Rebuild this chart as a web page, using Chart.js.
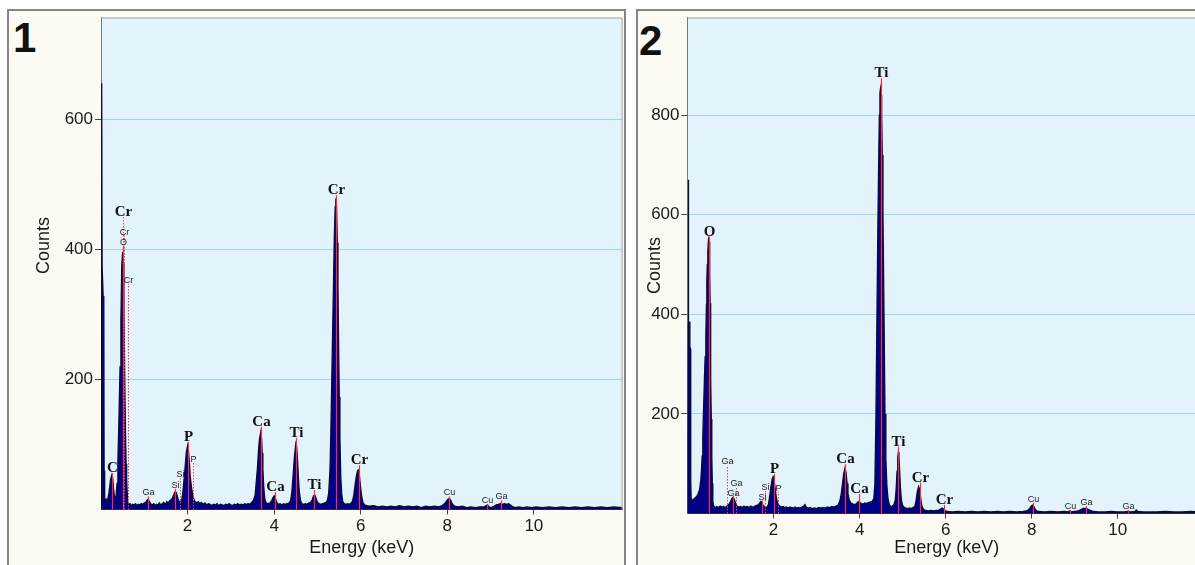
<!DOCTYPE html>
<html>
<head>
<meta charset="utf-8">
<script src="https://cdn.jsdelivr.net/npm/chart.js@4.4.1/dist/chart.umd.min.js"></script>
<style>
  html, body { margin: 0; padding: 0; background: #fff; width: 1195px; height: 565px; overflow: hidden; }
  .frame { position: absolute; top: 9px; height: 600px; background: #fbfbf3; border: 2px solid #858585; box-sizing: border-box; }
  #f1 { left: 7px; width: 619px; }
  #f2 { left: 636px; width: 620px; }
  .num { position: absolute; font: bold 42px "Liberation Sans", Arial, sans-serif; line-height: 42px; color: #111; }
  canvas { position: absolute; }
</style>
</head>
<body>
<div class="frame" id="f1"></div>
<div class="frame" id="f2"></div>
<div class="num" style="left:13px;top:17px">1</div>
<div class="num" style="left:639px;top:20px">2</div>
<canvas id="c1" width="616" height="554" style="left:9px;top:11px"></canvas>
<canvas id="c2" width="575" height="554" style="left:638px;top:11px"></canvas>
<script>
// tick values
const xTicks = [2, 4, 6, 8, 10];
const yTicks1 = [200, 400, 600];
const yTicks2 = [200, 400, 600, 800];

// spectrum 1: [energy keV, counts]
const spectrum1 = [
  [0,0],[0.012,300],[0.02,655],[0.026,374],[0.045,374],[0.05,328],[0.065,325],[0.072,60],[0.085,18],[0.1,14],
  [0.12,16],[0.14,13],[0.16,18],[0.18,24],[0.2,34],[0.22,46],[0.25,53],[0.27,48],[0.29,32],[0.31,20],
  [0.33,17],[0.35,22],[0.37,40],[0.39,75],[0.41,127],[0.44,219],[0.46,291],[0.48,375],[0.5,396],[0.515,378],
  [0.53,314],[0.545,220],[0.563,127],[0.58,70],[0.593,45],[0.616,12],[0.64,8],[0.67,9],[0.7,6],[0.73,8],
  [0.76,7],[0.8,9],[0.83,6],[0.86,8],[0.9,7],[0.93,9],[0.96,8],[1.0,10],[1.03,11],[1.06,14],
  [1.09,16],[1.12,12],[1.15,9],[1.18,7],[1.22,9],[1.25,6],[1.28,8],[1.32,7],[1.35,10],[1.38,7],
  [1.42,9],[1.45,11],[1.48,8],[1.52,12],[1.55,10],[1.58,13],[1.62,15],[1.66,19],[1.7,26],[1.72,28],
  [1.75,24],[1.78,16],[1.81,12],[1.85,11],[1.88,20],[1.91,40],[1.94,62],[1.97,88],[2.0,98],[2.02,90],
  [2.04,74],[2.06,52],[2.09,34],[2.12,22],[2.15,15],[2.18,12],[2.21,10],[2.25,12],[2.28,9],[2.32,11],
  [2.36,8],[2.4,10],[2.44,7],[2.48,9],[2.52,8],[2.56,6],[2.6,8],[2.64,7],[2.68,9],[2.72,6],
  [2.76,8],[2.8,7],[2.84,6],[2.88,8],[2.92,7],[2.96,9],[3.0,7],[3.04,6],[3.08,8],[3.12,7],
  [3.16,9],[3.2,7],[3.24,8],[3.28,7],[3.32,9],[3.36,8],[3.4,9],[3.44,8],[3.48,11],[3.52,14],
  [3.56,22],[3.59,45],[3.615,65],[3.64,92],[3.66,108],[3.69,119],[3.71,108],[3.725,87],[3.74,62],[3.755,41],
  [3.77,26],[3.79,14],[3.82,10],[3.86,9],[3.9,10],[3.94,13],[3.97,18],[4.0,21],[4.03,17],[4.06,11],
  [4.1,8],[4.14,9],[4.18,7],[4.22,9],[4.26,8],[4.3,9],[4.34,10],[4.38,13],[4.41,28],[4.44,55],
  [4.47,82],[4.5,101],[4.52,96],[4.54,76],[4.56,50],[4.58,28],[4.61,14],[4.64,9],[4.68,8],[4.72,9],
  [4.76,8],[4.8,10],[4.84,11],[4.88,15],[4.91,21],[4.94,22],[4.97,17],[5.0,11],[5.04,9],[5.08,8],
  [5.12,9],[5.16,10],[5.2,11],[5.23,14],[5.26,25],[5.29,61],[5.31,120],[5.33,194],[5.35,270],[5.37,342],
  [5.39,419],[5.41,465],[5.425,478],[5.44,468],[5.46,410],[5.475,340],[5.49,250],[5.505,173],[5.52,110],[5.54,50],
  [5.56,25],[5.585,12],[5.62,9],[5.66,8],[5.7,9],[5.74,8],[5.78,10],[5.81,13],[5.84,22],[5.87,38],
  [5.9,52],[5.93,60],[5.95,61],[5.97,52],[5.99,38],[6.02,21],[6.05,11],[6.09,7],[6.14,6],[6.2,5],
  [6.3,6],[6.4,4],[6.5,5],[6.6,4],[6.7,5],[6.8,4],[6.9,6],[7.0,4],[7.1,5],[7.2,4],
  [7.3,5],[7.4,3],[7.5,5],[7.6,4],[7.7,5],[7.8,4],[7.88,6],[7.94,9],[7.98,13],[8.02,16],
  [8.05,17],[8.08,14],[8.12,8],[8.17,5],[8.25,4],[8.35,5],[8.45,3],[8.55,4],[8.65,3],[8.75,4],
  [8.85,4],[8.9,6],[8.93,7],[8.96,4],[9.02,3],[9.08,5],[9.13,7],[9.18,8],[9.22,9],[9.27,8],
  [9.32,9],[9.37,8],[9.42,9],[9.46,7],[9.5,5],[9.56,3],[9.65,4],[9.75,3],[9.85,4],[9.95,3],
  [10.05,4],[10.2,3],[10.35,4],[10.5,3],[10.65,4],[10.8,3],[10.95,4],[11.1,3],[11.25,4],[11.4,3],
  [11.55,4],[11.7,3],[11.85,4],[12.05,3]
];

// spectrum 2: [energy keV, counts]
const spectrum2 = [
  [0,0],[0.012,380],[0.02,670],[0.026,384],[0.05,384],[0.055,336],[0.068,330],[0.075,70],[0.085,30],[0.1,25],
  [0.13,27],[0.16,30],[0.2,33],[0.24,38],[0.28,48],[0.31,68],[0.325,87],[0.34,115],[0.356,154],[0.375,215],
  [0.395,275],[0.41,315],[0.426,355],[0.44,420],[0.449,466],[0.46,500],[0.472,526],[0.488,550],[0.5,545],[0.511,523],
  [0.52,480],[0.527,422],[0.535,345],[0.542,272],[0.553,190],[0.565,114],[0.577,60],[0.589,25],[0.605,16],[0.62,14],
  [0.65,12],[0.68,14],[0.72,12],[0.76,15],[0.8,13],[0.84,14],[0.88,12],[0.92,15],[0.96,18],[1.0,24],
  [1.03,30],[1.06,33],[1.09,28],[1.12,20],[1.15,15],[1.19,13],[1.23,14],[1.27,12],[1.31,15],[1.35,13],
  [1.39,14],[1.43,12],[1.47,15],[1.51,13],[1.55,14],[1.59,16],[1.63,17],[1.67,20],[1.7,24],[1.73,23],
  [1.76,16],[1.8,13],[1.84,12],[1.88,18],[1.91,35],[1.94,55],[1.97,70],[1.99,74],[2.01,68],[2.04,48],
  [2.07,30],[2.1,20],[2.14,15],[2.18,13],[2.22,14],[2.26,12],[2.3,13],[2.34,11],[2.38,13],[2.42,12],
  [2.46,11],[2.5,13],[2.54,11],[2.58,12],[2.62,11],[2.66,13],[2.7,15],[2.73,18],[2.76,13],[2.8,11],
  [2.85,12],[2.9,10],[2.95,11],[3.0,10],[3.05,12],[3.1,11],[3.15,12],[3.2,11],[3.25,13],[3.3,12],
  [3.35,14],[3.4,13],[3.45,15],[3.5,17],[3.54,25],[3.57,38],[3.6,58],[3.63,80],[3.66,91],[3.685,82],
  [3.71,60],[3.73,40],[3.76,27],[3.8,21],[3.85,19],[3.9,18],[3.94,21],[3.97,24],[4.0,23],[4.04,20],
  [4.08,19],[4.12,21],[4.16,20],[4.2,22],[4.24,23],[4.28,24],[4.3,25],[4.33,30],[4.355,60],[4.38,200],
  [4.403,400],[4.427,600],[4.445,720],[4.458,800],[4.472,845],[4.485,853],[4.498,840],[4.512,800],[4.527,720],[4.543,600],
  [4.567,400],[4.59,200],[4.61,110],[4.635,55],[4.66,30],[4.69,18],[4.72,14],[4.76,15],[4.8,18],[4.83,28],
  [4.85,50],[4.87,85],[4.885,112],[4.9,123],[4.915,112],[4.93,85],[4.95,50],[4.97,28],[5.0,16],[5.04,12],
  [5.08,11],[5.12,10],[5.16,11],[5.2,10],[5.24,12],[5.28,14],[5.31,25],[5.34,44],[5.37,54],[5.39,50],
  [5.42,30],[5.45,14],[5.49,8],[5.54,6],[5.6,5],[5.66,6],[5.72,5],[5.78,6],[5.84,7],[5.88,9],
  [5.92,11],[5.95,9],[5.99,5],[6.05,4],[6.15,3],[6.3,4],[6.45,3],[6.6,4],[6.75,3],[6.9,4],
  [7.05,3],[7.2,4],[7.35,3],[7.5,4],[7.65,3],[7.8,4],[7.9,6],[7.95,10],[7.99,15],[8.02,17],
  [8.05,14],[8.09,7],[8.15,4],[8.3,3],[8.45,4],[8.6,3],[8.75,4],[8.85,3],[8.88,5],[8.91,3],
  [9.0,4],[9.08,5],[9.14,8],[9.2,10],[9.26,10],[9.32,8],[9.38,6],[9.44,4],[9.55,3],[9.7,3],
  [9.85,4],[10.0,3],[10.15,3],[10.22,4],[10.3,3],[10.4,4],[10.43,7],[10.47,4],[10.6,3],[10.75,3],
  [10.9,3],[11.1,4],[11.3,3],[11.5,3],[11.7,4],[11.9,3],[12.05,3]
];

// peak markers: [energy, label height (counts), text, big label, dotted line]
const markers1 = [
  [0.26, 56, 'C', 1, 0],
  [0.5, 449, 'Cr', 1, 1],
  [0.54, 421, 'Cr', 0, 1],
  [0.51, 405, 'O', 0, 0],
  [0.63, 347, 'Cr', 0, 1],
  [1.09, 20, 'Ga', 0, 0],
  [1.72, 32, 'Si', 0, 0],
  [1.83, 48, 'Si', 0, 1],
  [2.0, 104, 'P', 1, 0],
  [2.13, 72, 'P', 0, 1],
  [3.69, 127, 'Ca', 1, 0],
  [4.01, 27, 'Ca', 1, 0],
  [4.51, 110, 'Ti', 1, 0],
  [4.93, 30, 'Ti', 1, 0],
  [5.42, 483, 'Cr', 1, 0],
  [5.95, 68, 'Cr', 1, 0],
  [8.05, 20, 'Cu', 0, 0],
  [8.92, 8, 'Cu', 0, 0],
  [9.25, 14, 'Ga', 0, 0]
];
const markers2 = [
  [0.49, 556, 'O', 1, 0],
  [0.92, 97, 'Ga', 0, 1],
  [1.12, 54, 'Ga', 0, 1],
  [1.05, 34, 'Ga', 0, 0],
  [1.8, 46, 'Si', 0, 1],
  [1.72, 26, 'Si', 0, 0],
  [2.01, 79, 'P', 1, 0],
  [2.1, 44, 'P', 0, 1],
  [3.66, 99, 'Ca', 1, 0],
  [3.99, 39, 'Ca', 1, 0],
  [4.49, 874, 'Ti', 1, 0],
  [4.9, 134, 'Ti', 1, 0],
  [5.4, 62, 'Cr', 1, 0],
  [5.95, 17, 'Cr', 1, 0],
  [8.02, 22, 'Cu', 0, 0],
  [8.88, 7, 'Cu', 0, 0],
  [9.25, 15, 'Ga', 0, 0],
  [10.23, 7, 'Ga', 0, 0]
];

const FONT = '"Liberation Sans", Arial, sans-serif';

const plotBg = {
  id: 'plotBg',
  beforeDraw(chart) {
    const {ctx, chartArea: a} = chart;
    ctx.save();
    ctx.fillStyle = '#e2f3fb';
    ctx.fillRect(a.left, a.top, a.right - a.left, a.bottom - a.top);
    ctx.restore();
  },
  afterDraw(chart) {
    const {ctx, chartArea: a} = chart;
    ctx.save();
    ctx.strokeStyle = '#a0a0a0';
    ctx.lineWidth = 1;
    ctx.beginPath();
    ctx.moveTo(a.left, a.top + 0.5);
    ctx.lineTo(a.right - 0.5, a.top + 0.5);
    ctx.lineTo(a.right - 0.5, a.bottom);
    ctx.stroke();
    ctx.restore();
  }
};

const peakMarks = {
  id: 'peakMarks',
  afterDatasetsDraw(chart, args, opts) {
    const {ctx, scales: {x, y}} = chart;
    const base = y.getPixelForValue(0);
    ctx.save();
    opts.marks.forEach(([e, top, text, big, dotted]) => {
      const px = Math.round(x.getPixelForValue(e)) + 0.5;
      const py = y.getPixelForValue(top);
      ctx.beginPath();
      ctx.strokeStyle = dotted ? '#f04058' : '#ff2a3c';
      ctx.lineWidth = dotted ? 1 : 1.2;
      ctx.setLineDash(dotted ? [1.5, 1.5] : []);
      ctx.moveTo(px, base);
      ctx.lineTo(px, py);
      ctx.stroke();
      ctx.setLineDash([]);
      ctx.font = big ? 'bold 15px "Liberation Serif", "Times New Roman", serif' : '9px ' + FONT;
      ctx.fillStyle = big ? '#111' : '#222';
      ctx.textAlign = 'center';
      ctx.textBaseline = 'alphabetic';
      ctx.fillText(text, px, py - 1);
    });
    ctx.restore();
  }
};

const yTitle = {
  id: 'yTitle',
  afterDraw(chart, args, opts) {
    const {ctx, chartArea: a} = chart;
    ctx.save();
    ctx.translate(opts.x, (a.top + a.bottom) / 2 + opts.dy);
    ctx.rotate(-Math.PI / 2);
    ctx.font = '18px ' + FONT;
    ctx.fillStyle = '#1a1a1a';
    ctx.textAlign = 'center';
    ctx.textBaseline = 'middle';
    ctx.fillText(opts.text, 0, 0);
    ctx.restore();
  }
};

function makeChart(id, spectrum, markers, yTicks, g) {
  return new Chart(document.getElementById(id), {
    type: 'line',
    data: {
      datasets: [{
        data: spectrum.map(([e, c]) => ({x: e, y: c})),
        borderColor: '#0c0c30',
        borderWidth: 1.3,
        backgroundColor: '#000086',
        fill: 'origin',
        pointRadius: 0,
        tension: 0
      }]
    },
    options: {
      responsive: false,
      animation: false,
      layout: {padding: {top: 6.5, right: g.padRight, left: 0, bottom: 0}},
      plugins: {
        legend: {display: false},
        tooltip: {enabled: false},
        peakMarks: {marks: markers},
        yTitle: {text: 'Counts', x: g.titleX, dy: g.titleDy}
      },
      scales: {
        x: {
          type: 'linear', min: 0, max: 12.05,
          afterBuildTicks: s => { s.ticks = xTicks.map(v => ({value: v})); },
          afterFit: s => { s.height = g.xHeight; s.paddingLeft = 0; s.paddingRight = 0; },
          grid: {drawOnChartArea: false, tickLength: 5, tickColor: '#444'},
          border: {color: '#333'},
          ticks: {font: {family: FONT, size: 17}, color: '#1a1a1a', padding: 2, maxRotation: 0, autoSkip: false},
          title: {display: true, text: 'Energy (keV)', font: {family: FONT, size: 18}, color: '#1a1a1a', padding: {top: 0, bottom: 6}}
        },
        y: {
          type: 'linear', min: 0, max: g.yMax,
          afterBuildTicks: s => { s.ticks = yTicks.map(v => ({value: v})); },
          afterFit: s => { s.width = g.yWidth; s.paddingTop = 0; s.paddingBottom = 0; },
          grid: {color: '#9fd5ee', tickColor: '#444', tickLength: 6},
          border: {color: '#777'},
          ticks: {font: {family: FONT, size: 17}, color: '#1a1a1a', padding: 2}
        }
      }
    },
    plugins: [plotBg, peakMarks, yTitle]
  });
}

makeChart('c1', spectrum1, markers1, yTicks1,
  {yMax: 756, yWidth: 92, xHeight: 55.5, padRight: 2.4, titleX: 35, titleDy: -18});
makeChart('c2', spectrum2, markers2, yTicks2,
  {yMax: 996, yWidth: 49.5, xHeight: 51.5, padRight: 7, titleX: 17, titleDy: 0});
</script>
</body>
</html>
